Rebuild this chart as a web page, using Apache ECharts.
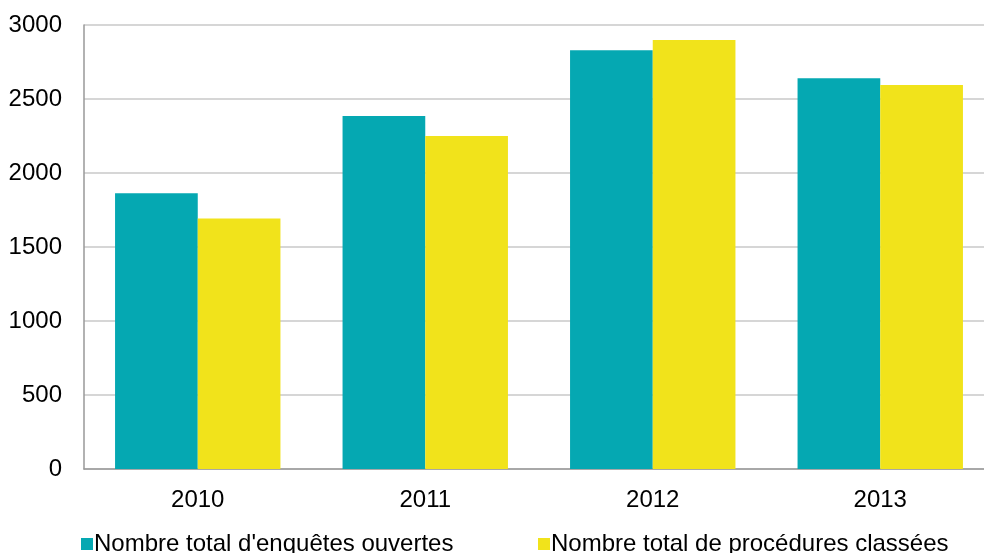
<!DOCTYPE html>
<html>
<head>
<meta charset="utf-8">
<script src="https://cdn.jsdelivr.net/npm/echarts@6/dist/echarts.min.js"></script>
<style>html,body{margin:0;padding:0;background:#fff}#c{width:984px;height:553px}</style>
</head>
<body>
<div id="c"></div>
<script>
const categories = ['2010', '2011', '2012', '2013'];
const enquetes = [1864, 2385, 2830, 2640];
const procedures = [1692, 2250, 2899, 2595];
const yTicks = [0, 500, 1000, 1500, 2000, 2500, 3000];
const seriesNames = ["Nombre total d'enquêtes ouvertes", "Nombre total de procédures classées"];

const font = 'Liberation Sans, Arial, sans-serif';
const chart = echarts.init(document.getElementById('c'));
chart.setOption({
  animation: false,
  backgroundColor: '#fff',
  textStyle: { fontFamily: font },
  grid: { left: 84, width: 910, top: 25, bottom: 84, outerBoundsMode: 'none', containLabel: false },
  legend: [
    { data: [seriesNames[0]], left: 76, top: 527, itemWidth: 12, itemHeight: 12, itemGap: 6,
      icon: 'rect', textStyle: { fontSize: 24, color: '#000', fontFamily: font, padding: [0,0,0,-4] } },
    { data: [seriesNames[1]], left: 533, top: 527, itemWidth: 12, itemHeight: 12, itemGap: 6,
      icon: 'rect', textStyle: { fontSize: 24, color: '#000', fontFamily: font, padding: [0,0,0,-4] } }
  ],
  xAxis: {
    type: 'category', data: categories,
    axisLine: { lineStyle: { color: '#999', width: 1.5 } },
    axisTick: { show: false },
    axisLabel: { fontSize: 24, color: '#000', margin: 19, fontFamily: font }
  },
  yAxis: {
    type: 'value', min: yTicks[0], max: yTicks[yTicks.length - 1], interval: 500,
    axisLine: { show: true, lineStyle: { color: '#999', width: 1.5 } },
    axisTick: { show: false },
    splitLine: { lineStyle: { color: '#c8c8c8', width: 1.5 } },
    axisLabel: { fontSize: 24, color: '#000', margin: 22, fontFamily: font, formatter: v => String(v) }
  },
  series: [
    { name: seriesNames[0], type: 'bar', data: enquetes, barGap: '0%', barCategoryGap: '27.3%',
      itemStyle: { color: '#05A8B2' } },
    { name: seriesNames[1], type: 'bar', data: procedures, barGap: '0%', barCategoryGap: '27.3%',
      itemStyle: { color: '#F1E31B' } }
  ]
});
</script>
</body>
</html>
